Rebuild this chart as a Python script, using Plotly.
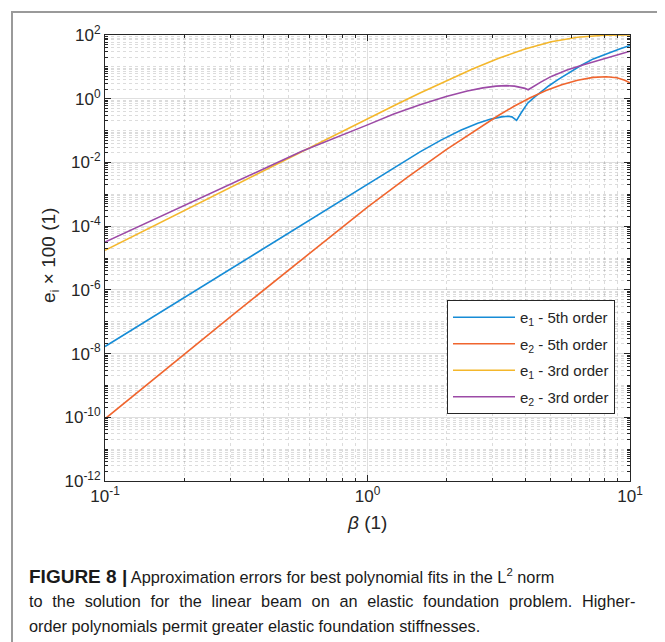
import plotly.graph_objects as go

# ---- data (beta, error x 100) ----
beta_e1_5th = [0.1, 0.316, 1.0, 1.259, 1.585, 1.905, 2.265, 2.630, 2.951, 3.236, 3.428,
               3.548, 3.631, 3.698, 3.846, 4.074, 4.315, 4.508, 4.898, 5.297, 5.888,
               6.501, 7.244, 8.222, 9.120, 10.0]
e1_5th = [1.66e-8, 5.89e-6, 2.09e-3, 6.76e-3, 0.0214, 0.0501, 0.102, 0.170, 0.229, 0.269,
          0.282, 0.269, 0.240, 0.209, 0.355, 0.724, 1.10, 1.48, 2.51, 3.89, 6.76,
          11.0, 17.8, 26.9, 36.3, 46.8]

beta_e2_5th = [0.1, 0.316, 1.0, 1.413, 1.995, 2.630, 3.162, 3.631, 4.169, 4.786, 5.495,
               6.310, 7.244, 8.128, 8.913, 9.550, 10.0]
e2_5th = [8.9e-11, 2.0e-7, 3.98e-4, 3.31e-3, 0.0251, 0.115, 0.302, 0.589, 1.07, 1.82, 2.75,
          3.80, 4.68, 4.90, 4.57, 3.80, 3.16]

beta_e1_3rd = [0.1, 0.316, 0.562, 1.0, 1.259, 1.585, 1.995, 2.512, 3.162, 3.981, 5.012,
               6.310, 7.943, 10.0]
e1_3rd = [1.74e-5, 2.04e-3, 0.0221, 0.234, 0.603, 1.51, 3.67, 8.51, 18.6, 36.3, 61.7,
          85.1, 97.7, 100.0]

beta_e2_3rd = [0.1, 0.316, 0.562, 1.0, 1.259, 1.585, 1.995, 2.399, 2.754, 3.090, 3.388,
               3.631, 3.846, 3.981, 4.093, 4.266, 4.571, 5.012, 5.754, 6.607, 7.586,
               8.710, 10.0]
e2_3rd = [3.16e-5, 2.51e-3, 0.0224, 0.151, 0.331, 0.646, 1.17, 1.74, 2.19, 2.48, 2.57,
          2.48, 2.29, 2.11, 1.91, 2.40, 3.31, 5.01, 7.94, 11.5, 16.2, 22.4, 30.9]

series_names = ["e<sub>1</sub> - 5th order", "e<sub>2</sub> - 5th order",
                "e<sub>1</sub> - 3rd order", "e<sub>2</sub> - 3rd order"]
series_colors = ["#168CD6", "#F0652E", "#F4B72B", "#9C4AA6"]

x_tick_vals = [0.1, 1, 10]
x_tick_text = ["10<sup>-1</sup>", "10<sup>0</sup>", "10<sup>1</sup>"]
y_tick_vals = [1e-12, 1e-10, 1e-8, 1e-6, 1e-4, 1e-2, 1, 100]
y_tick_text = ["10<sup>-12</sup>", "10<sup>-10</sup>", "10<sup>-8</sup>", "10<sup>-6</sup>",
               "10<sup>-4</sup>", "10<sup>-2</sup>", "10<sup>0</sup>", "10<sup>2</sup>"]

caption_label = "FIGURE 8 |"
caption_lines = [
    "Approximation errors for best polynomial fits in the L<sup>2</sup> norm",
    "to the solution for the linear beam on an elastic foundation problem. Higher-",
    "order polynomials permit greater elastic foundation stiffnesses.",
]

# minor tick positions (log decades)
x_minor = [k * 10.0 ** n for n in (-1, 0) for k in range(2, 10)]
y_minor = []
for n in range(-12, 2):
    for k in range(1, 10):
        if k == 1 and n % 2 == 0:
            continue
        y_minor.append(k * 10.0 ** n)

OFF = 8  # page body margin
W, H = 665 - OFF, 642 - OFF
# plot area in reference pixels: x 105..630, y 35..481
L, R, T, B = 105 - OFF, 665 - 630, 35 - OFF, 642 - 481
pw, ph = W - L - R, H - T - B


def px(x):
    return (x - OFF - L) / pw


def py(y):
    return (H - B - (y - OFF)) / ph


fig = go.Figure()
for i, (bx, ey, name, col) in enumerate(zip(
        [beta_e1_5th, beta_e2_5th, beta_e1_3rd, beta_e2_3rd],
        [e1_5th, e2_5th, e1_3rd, e2_3rd], series_names, series_colors)):
    fig.add_trace(go.Scatter(x=bx, y=ey, mode="lines", name=name, legendgroup=f"g{i}",
                             line=dict(color=col, width=1.6), hoverinfo="skip"))

font_family = "Liberation Sans, Arial, Helvetica, sans-serif"
axis_common = dict(
    type="log", showline=True, linecolor="#262626", linewidth=1, mirror="allticks",
    ticks="inside", ticklen=6, tickcolor="#262626", tickwidth=1,
    showgrid=True, gridcolor="rgba(38,38,38,0.15)", gridwidth=1,
    zeroline=False, tickfont=dict(family=font_family, size=17, color="#262626"),
)
minor_common = dict(tickmode="array", ticks="inside", ticklen=3, tickcolor="#262626",
                    showgrid=True, gridcolor="rgba(38,38,38,0.16)", griddash="dot",
                    gridwidth=1)

fig.update_xaxes(**axis_common, range=[-1, 1], tickmode="array",
                 tickvals=x_tick_vals, ticktext=x_tick_text,
                 minor=dict(tickvals=x_minor, **minor_common))
fig.update_yaxes(**axis_common, range=[-12, 2], tickmode="array",
                 tickvals=y_tick_vals, ticktext=y_tick_text,
                 minor=dict(tickvals=y_minor, **minor_common))

annotations = [
    dict(text="<i>β</i> (1)", x=px(367), y=py(522), xref="paper", yref="paper",
         xanchor="center", yanchor="middle", showarrow=False,
         font=dict(family=font_family, size=19, color="#262626")),
    dict(text="e<sub>i</sub> × 100 (1)", x=px(50), y=py(256), xref="paper", yref="paper",
         xanchor="center", yanchor="middle", showarrow=False, textangle=-90,
         font=dict(family=font_family, size=19, color="#262626")),
]

# caption: bold label, then text; the middle line is justified like the original
cap_font = dict(family=font_family, size=16.3, color="#1a1a1a")
line1 = ('<span style="font-size:19px"><b>' + caption_label + '</b></span> '
         + caption_lines[0])
line2 = '<span style="word-spacing:5.2px">' + caption_lines[1] + '</span>'
for i, line in enumerate([line1, line2, caption_lines[2]]):
    annotations.append(dict(text=line, x=px(27), y=py(576 + 25 * i), xref="paper",
                            yref="paper", xanchor="left", yanchor="middle",
                            showarrow=False, font=cap_font))

fig.update_layout(
    width=W, height=H, margin=dict(l=L, r=R, t=T, b=B),
    paper_bgcolor="white", plot_bgcolor="white",
    showlegend=True,
    legend=dict(x=px(615), y=py(300), xanchor="right", yanchor="top",
                bgcolor="white", bordercolor="#262626", borderwidth=1,
                font=dict(family=font_family, size=15, color="#262626"),
                itemwidth=62, tracegroupgap=4),
    annotations=annotations,
    shapes=[dict(type="rect", xref="paper", yref="paper",
                 x0=px(12), x1=px(662), y0=py(660), y1=py(12),
                 line=dict(color="#9a9a9a", width=2), layer="below")],
)

fig.write_html("out.html")
